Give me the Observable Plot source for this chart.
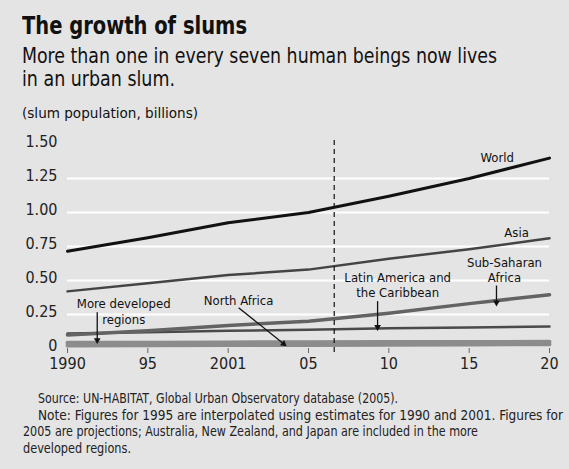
<!DOCTYPE html>
<html><head><meta charset="utf-8">
<script src="https://cdn.jsdelivr.net/npm/d3@7"></script>
<script src="https://cdn.jsdelivr.net/npm/@observablehq/plot@0.6"></script>
<style>
html,body{margin:0;padding:0;background:#e4e4e4;}
body{width:569px;height:469px;position:relative;overflow:hidden;font-family:"Liberation Sans Narrow","Arial Narrow","DejaVu Sans Condensed",sans-serif;color:#111;}
.t{position:absolute;left:22px;white-space:nowrap;line-height:1;}
.fit{display:inline-block;transform-origin:0 0;white-space:nowrap;}
#title{top:14px;font-size:24px;font-weight:bold;}
#sub{top:44px;font-size:22px;line-height:23px;}
#unit{top:106px;font-size:14px;}
#chart{position:absolute;left:0;top:128px;}
#note{position:absolute;left:23px;top:390px;font-size:13.5px;line-height:16.5px;white-space:nowrap;color:#222;}
#note .i{margin-left:15px;}
</style></head>
<body>
<div id="title" class="t"><span class="fit" data-w="225">The growth of slums</span></div>
<div id="sub" class="t"><span class="fit" data-w="475">More than one in every seven human beings now lives</span><br><span class="fit" data-w="153">in an urban slum.</span></div>
<div id="unit" class="t"><span class="fit" data-w="176">(slum population, billions)</span></div>
<div id="chart"></div>
<div id="note"><span class="fit i" data-w="360">Source: UN-HABITAT, Global Urban Observatory database (2005).</span><br><span class="fit i" data-w="525">Note: Figures for 1995 are interpolated using estimates for 1990 and 2001. Figures for</span><br><span class="fit" data-w="455">2005 are projections; Australia, New Zealand, and Japan are included in the more</span><br><span class="fit" data-w="108">developed regions.</span></div>
<script>
const years = [1990, 1995, 2001, 2005, 2010, 2015, 2020];
const tickLabels = ["1990", "95", "2001", "05", "10", "15", "20"];
const world = [0.715, 0.815, 0.925, 1.00, 1.12, 1.25, 1.40];
const asia = [0.42, 0.48, 0.54, 0.58, 0.66, 0.73, 0.81];
const subSaharan = [0.10, 0.13, 0.17, 0.20, 0.26, 0.33, 0.395];
const latinAmerica = [0.11, 0.12, 0.13, 0.137, 0.148, 0.155, 0.162];
const northAfrica = [0.022, 0.023, 0.025, 0.026, 0.028, 0.030, 0.032];
const developed = [0.042, 0.043, 0.045, 0.046, 0.047, 0.048, 0.049];
const yTicks = [0, 0.25, 0.5, 0.75, 1, 1.25, 1.5];
const gridValues = [0.25, 0.5, 0.75, 1, 1.25];
const projectionYear = 2006.6;

// labels: [text, year, value]
const labels = [
  ["World", 2016.75, 1.41],
  ["Asia", 2017.95, 0.86],
  ["Sub-Saharan\nAfrica", 2017.2, 0.58],
  ["Latin America and\nthe Caribbean", 2010.55, 0.47],
  ["More developed\nregions", 1993.5, 0.277],
  ["North Africa", 2001.52, 0.36]
];
// arrows: [year1, value1, year2, value2]
const arrows = [
  [2016.7, 0.463, 2016.7, 0.338],
  [2009.3, 0.348, 2009.3, 0.158],
  [1991.85, 0.267, 1991.85, 0.062],
  [2001.52, 0.30, 2003.76, 0.035]
];

const W = 569, H = 244, ML = 67, MR = 20, MT = 16, MB = 24;
const pos = d3.scaleLinear(years, d3.range(years.length));
const rows = (vals) => vals.map((v, i) => ({x: i, y: v}));
const labelRows = labels.map(([text, yr, v]) => ({text, x: pos(yr), y: v}));
const sx = Plot.scale({x: {domain: [0, years.length - 1], range: [ML, W - MR]}});
const sy = Plot.scale({y: {domain: [0, 1.5], range: [H - MB, MT]}});
const arrowRows = arrows.map(([a, b, c, d]) => {
  const r = {x1: pos(a), y1: b, x2: pos(c), y2: d};
  const dx = sx.apply(r.x2) - sx.apply(r.x1), dy = sy.apply(r.y2) - sy.apply(r.y1);
  r.angle = Math.atan2(dx, -dy) * 180 / Math.PI;
  return r;
});

const chart = Plot.plot({
  width: W,
  height: H,
  marginLeft: ML,
  marginRight: MR,
  marginTop: MT,
  marginBottom: MB,
  style: {background: "transparent", fontFamily: "'Liberation Sans Narrow','Arial Narrow','DejaVu Sans Condensed',sans-serif", fontSize: "16px", color: "#222"},
  x: {type: "linear", domain: [0, years.length - 1]},
  y: {domain: [0, 1.5]},
  marks: [
    Plot.ruleY(gridValues, {stroke: "white", strokeWidth: 2}),
    Plot.axisY({ticks: yTicks, tickSize: 0, tickPadding: 10, dy: -3, tickFormat: d => d === 0 ? "0" : d.toFixed(2), label: null, fontSize: 16}),
    Plot.axisX({ticks: d3.range(years.length), tickSize: 5, tickPadding: 4, tickFormat: i => tickLabels[i], label: null, stroke: "#666", fontSize: 16}),
    Plot.line(rows(northAfrica), {x: "x", y: "y", stroke: "#8c8c8c", strokeWidth: 4}),
    Plot.line(rows(developed), {x: "x", y: "y", stroke: "#8c8c8c", strokeWidth: 4}),
    Plot.line(rows(latinAmerica), {x: "x", y: "y", stroke: "#4a4a4a", strokeWidth: 2.5}),
    Plot.line(rows(subSaharan), {x: "x", y: "y", stroke: "#636363", strokeWidth: 3.5}),
    Plot.line(rows(asia), {x: "x", y: "y", stroke: "#444", strokeWidth: 2.5}),
    Plot.line(rows(world), {x: "x", y: "y", stroke: "#111", strokeWidth: 3}),
    Plot.ruleX([pos(projectionYear)], {y1: -0.03, y2: 1.55, stroke: "#111", strokeWidth: 1.2, strokeDasharray: "5,4", clip: false}),
    Plot.link(arrowRows, {x1: "x1", y1: "y1", x2: "x2", y2: "y2", stroke: "#111", strokeWidth: 1.3}),
    Plot.dot(arrowRows, {x: "x2", y: "y2", symbol: "triangle2", r: 3.2, fill: "#111", stroke: "none", rotate: "angle"}),
    Plot.text(labelRows, {x: "x", y: "y", text: "text", fontSize: 13, lineHeight: 1.2, fill: "#111", textAnchor: "middle"})
  ]
});
document.getElementById("chart").append(chart);

function fit() {
  document.querySelectorAll(".fit").forEach(el => {
    el.style.transform = "none";
    const w = el.getBoundingClientRect().width;
    if (w > 0) el.style.transform = `scaleX(${(+el.dataset.w / w).toFixed(4)})`;
  });
}
fit();
if (document.fonts && document.fonts.ready) document.fonts.ready.then(fit);
</script>
</body></html>
